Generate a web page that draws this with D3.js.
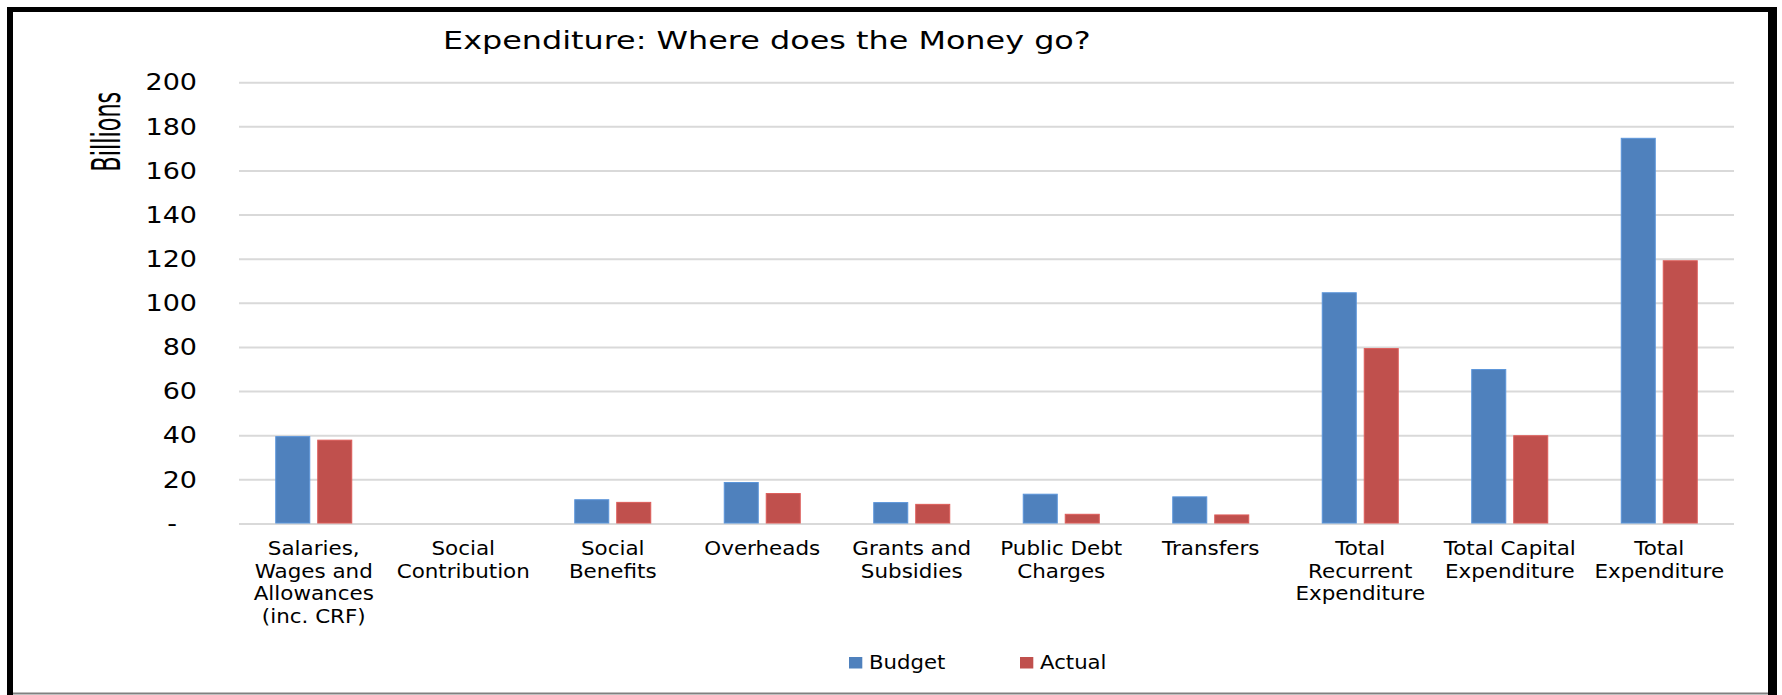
<!DOCTYPE html>
<html>
<head>
<meta charset="utf-8">
<script src="https://cdn.jsdelivr.net/npm/d3@7"></script>
<style>
  html, body { margin: 0; padding: 0; background: #fff; }
  svg { display: block; }
</style>
</head>
<body>
<svg id="chart"></svg>
<script>
// chart data
const categories = [
  'Salaries,\nWages and\nAllowances\n(inc. CRF)',
  'Social\nContribution',
  'Social\nBenefits',
  'Overheads',
  'Grants and\nSubsidies',
  'Public Debt\nCharges',
  'Transfers',
  'Total\nRecurrent\nExpenditure',
  'Total Capital\nExpenditure',
  'Total\nExpenditure'
];
const budget = [39.6, 0, 11.0, 18.8, 9.7, 13.5, 12.3, 104.8, 70.0, 174.8];
const actual = [38.0, 0, 9.8, 13.8, 8.9, 4.4, 4.1, 79.5, 40.0, 119.3];
const seriesNames = ['Budget', 'Actual'];
const seriesColors = ['#4F81BD', '#C0504D'];
const yTicks = [0, 20, 40, 60, 80, 100, 120, 140, 160, 180, 200];

const width = 1782;
const height = 695;
const font = '"DejaVu Sans", Verdana, sans-serif';

const svg = d3.select('#chart')
  .attr('width', width)
  .attr('height', height);

// the original picture is stretched sideways, so the text is too
const stretchText = (sel, x, y, sx) =>
  sel.attr('transform', `translate(${x},${y}) scale(${sx},1)`);

const x0 = d3.scaleBand()
  .domain(d3.range(categories.length))
  .range([239, 1734])
  .paddingInner(0.4916)
  .paddingOuter(0.2458);

const x1 = d3.scaleBand()
  .domain(seriesNames)
  .range([0, x0.bandwidth()])
  .paddingInner(0.19);

const y = d3.scaleLinear()
  .domain([0, 200])
  .range([524, 82.7]);

// gridlines
svg.append('g')
  .selectAll('line')
  .data(yTicks)
  .enter()
  .append('line')
  .attr('x1', 239)
  .attr('x2', 1734)
  .attr('y1', d => y(d))
  .attr('y2', d => y(d))
  .attr('stroke', '#d9d9d9')
  .attr('stroke-width', 2);

// y tick labels
svg.append('g')
  .selectAll('text')
  .data(yTicks)
  .enter()
  .append('text')
  .text(d => d === 0 ? '-' : d)
  .attr('font-family', font)
  .attr('font-size', 22.5)
  .attr('fill', '#000')
  .attr('text-anchor', d => d === 0 ? 'middle' : 'end')
  .attr('dominant-baseline', 'central')
  .each(function (d) {
    stretchText(d3.select(this), d === 0 ? 172 : 197, y(d) + (d === 0 ? -1 : 0), 1.2);
  });

// bars
const groups = svg.append('g')
  .selectAll('g')
  .data(categories.map((c, i) => ({ i, values: [budget[i], actual[i]] })))
  .enter()
  .append('g')
  .attr('transform', d => `translate(${x0(d.i)},0)`);

groups.selectAll('rect')
  .data(d => d.values.map((v, k) => ({ key: seriesNames[k], value: v, color: seriesColors[k] })))
  .enter()
  .filter(d => d.value > 0)
  .append('rect')
  .attr('x', d => x1(d.key))
  .attr('width', x1.bandwidth())
  .attr('y', d => y(d.value))
  .attr('height', d => y(0) - y(d.value) - 1)
  .attr('fill', d => d.color)
  .attr('stroke', d => d3.color(d.color).brighter(0.4))
  .attr('stroke-width', 1);

// category labels
const catLabels = svg.append('g')
  .selectAll('text')
  .data(categories)
  .enter()
  .append('text')
  .attr('font-family', font)
  .attr('font-size', 19.5)
  .attr('fill', '#000')
  .attr('text-anchor', 'middle')
  .each(function (d, i) {
    stretchText(d3.select(this), x0(i) + x0.bandwidth() / 2, 555, 1.1);
  });

catLabels.selectAll('tspan')
  .data(d => d.split('\n'))
  .enter()
  .append('tspan')
  .attr('x', 0)
  .attr('y', (d, i) => i * 22.6)
  .text(d => d);

// title
svg.append('text')
  .text('Expenditure: Where does the Money go?')
  .attr('font-family', font)
  .attr('font-size', 25)
  .attr('fill', '#000')
  .call(stretchText, 443, 48.5, 1.275);

// y axis title
svg.append('text')
  .text('Billions')
  .attr('font-family', '"Liberation Sans Narrow", "DejaVu Sans Condensed", sans-serif')
  .attr('font-size', 30)
  .attr('fill', '#000')
  .attr('text-anchor', 'middle')
  .attr('textLength', 80)
  .attr('lengthAdjust', 'spacingAndGlyphs')
  .attr('transform', 'translate(120,131.7) scale(1.3,1) rotate(-90)');

// legend
const legendX = [849, 1020];
const legend = svg.append('g')
  .selectAll('g')
  .data(seriesNames)
  .enter()
  .append('g')
  .attr('transform', (d, i) => `translate(${legendX[i]},0)`);

legend.append('rect')
  .attr('x', 0)
  .attr('y', 657)
  .attr('width', 13.3)
  .attr('height', 11.5)
  .attr('fill', (d, i) => seriesColors[i]);

legend.append('text')
  .text(d => d)
  .attr('font-family', font)
  .attr('font-size', 19.5)
  .attr('fill', '#000')
  .call(stretchText, 20, 669.3, 1.09);

// frame
svg.append('line')
  .attr('x1', 10).attr('x2', 10).attr('y1', 7).attr('y2', 695)
  .attr('stroke', '#000').attr('stroke-width', 6);
svg.append('line')
  .attr('x1', 7).attr('x2', 1777).attr('y1', 9.5).attr('y2', 9.5)
  .attr('stroke', '#000').attr('stroke-width', 5);
svg.append('line')
  .attr('x1', 1772.5).attr('x2', 1772.5).attr('y1', 7).attr('y2', 695)
  .attr('stroke', '#000').attr('stroke-width', 9);
svg.append('line')
  .attr('x1', 13).attr('x2', 1768).attr('y1', 693.5).attr('y2', 693.5)
  .attr('stroke', '#808080').attr('stroke-width', 2);
</script>
</body>
</html>
